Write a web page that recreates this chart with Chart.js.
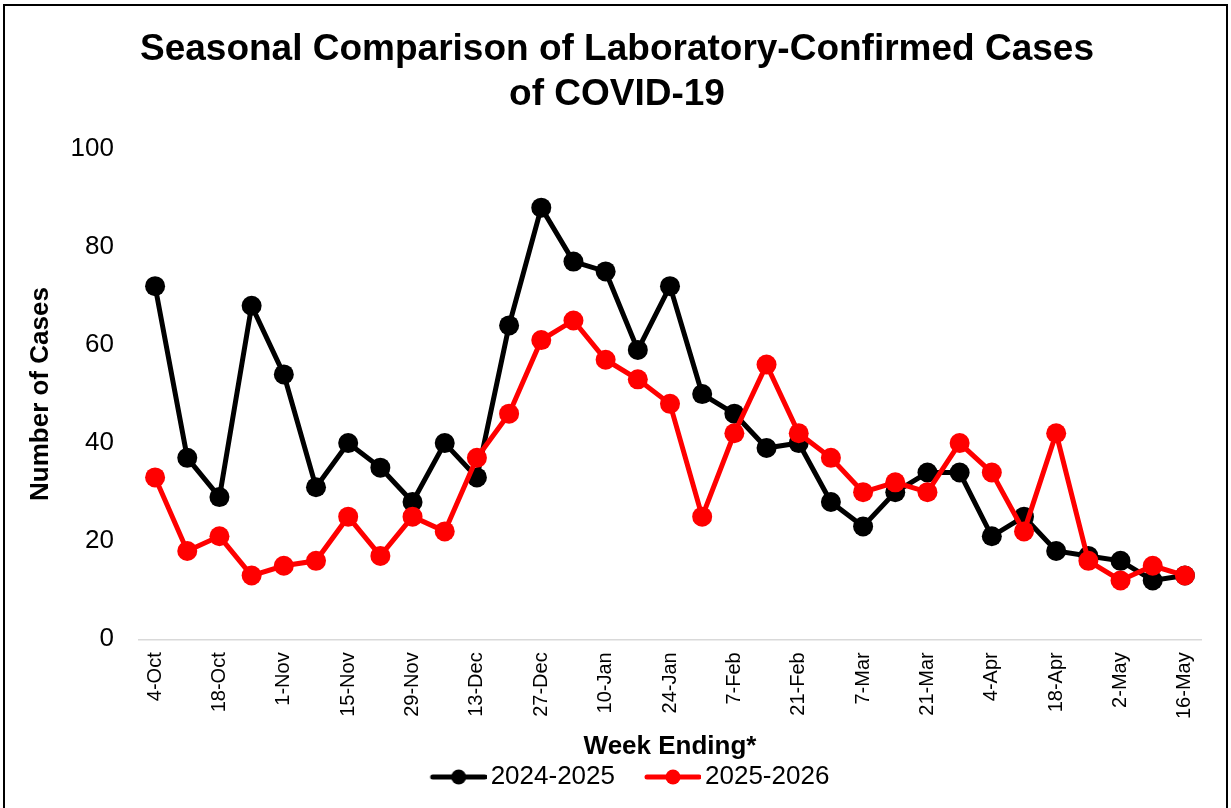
<!DOCTYPE html>
<html>
<head>
<meta charset="utf-8">
<script src="https://cdn.jsdelivr.net/npm/chart.js@4.4.1/dist/chart.umd.min.js"></script>
<style>
  html, body { margin: 0; padding: 0; background: #fff; }
</style>
</head>
<body>
<canvas id="covid_chart" width="1231" height="808"></canvas>
<script>
// week ending dates (every other one is labelled on the axis)
var weeks = ['4-Oct','11-Oct','18-Oct','25-Oct','1-Nov','8-Nov','15-Nov','22-Nov','29-Nov','6-Dec','13-Dec','20-Dec','27-Dec',
  '3-Jan','10-Jan','17-Jan','24-Jan','31-Jan','7-Feb','14-Feb','21-Feb','28-Feb','7-Mar','14-Mar','21-Mar','28-Mar',
  '4-Apr','11-Apr','18-Apr','25-Apr','2-May','9-May','16-May'];
var season2425 = [72,37,29,68,54,31,40,35,28,40,33,64,88,77,75,59,72,50,46,39,40,28,23,30,34,34,21,25,18,17,16,12,13];
var season2526 = [33,18,21,13,15,16,25,17,25,22,37,46,61,65,57,53,48,25,42,56,42,37,30,32,30,40,34,22,42,16,12,15,13];
var yTicks = [0, 20, 40, 60, 80, 100];

Chart.defaults.font.family = 'Arial, "Liberation Sans", sans-serif';
Chart.defaults.color = '#000';

// legend marker: line with a dot. The image is wider than the mark so the
// spacing between legend entries comes out like the spreadsheet one.
function legendIcon(color) {
  var c = document.createElement('canvas');
  c.width = 91; c.height = 16;
  var g = c.getContext('2d');
  g.strokeStyle = color; g.lineWidth = 5; g.lineCap = 'round';
  g.beginPath(); g.moveTo(37, 8); g.lineTo(89, 8); g.stroke();
  g.fillStyle = color;
  g.beginPath(); g.arc(63, 8, 7.5, 0, Math.PI * 2); g.fill();
  return c;
}

var frame = {
  id: 'frame',
  beforeDraw: function (chart) {
    var ctx = chart.ctx;
    ctx.save();
    ctx.fillStyle = '#fff';
    ctx.fillRect(0, 0, chart.width, chart.height);
    ctx.strokeStyle = '#000';
    ctx.lineWidth = 2;
    ctx.strokeRect(4, 5, 1223, 820);
    ctx.restore();
  }
};

var ctx = document.getElementById('covid_chart').getContext('2d');
var myChart = new Chart(ctx, {
  type: 'line',
  data: {
    labels: weeks,
    datasets: [{
      label: '2024-2025',
      data: season2425,
      borderColor: '#000',
      backgroundColor: '#000',
      order: 1,
    }, {
      label: '2025-2026',
      data: season2526,
      borderColor: '#ff0000',
      backgroundColor: '#ff0000',
      order: 0,   // red sits on top
    }],
  },
  plugins: [frame],
  options: {
    responsive: false,
    animation: false,
    events: [],
    layout: { padding: { left: 33, right: 30, top: 0, bottom: 8 } },
    elements: {
      line: { borderWidth: 5, tension: 0 },
      point: { radius: 10, borderWidth: 0 },
    },
    scales: {
      x: {
        offset: true,
        grid: { display: false, drawTicks: false },
        border: { display: true, color: '#d9d9d9', width: 1.5 },
        ticks: {
          autoSkip: false,
          minRotation: 90,
          maxRotation: 90,
          padding: 13,
          font: { size: 20 },
          callback: function (value, index) {
            return index % 2 === 0 ? this.getLabelForValue(value) : '';
          },
        },
        title: {
          display: true,
          text: 'Week Ending*',
          font: { size: 26, weight: 'bold', lineHeight: 1 },
          padding: { top: 2, bottom: 0 },
        },
      },
      y: {
        min: 0,
        max: 100,
        afterBuildTicks: function (scale) {
          scale.ticks = yTicks.map(function (v) { return { value: v }; });
        },
        afterFit: function (scale) {
          scale.width = 106;
        },
        grid: { display: false, drawTicks: false },
        border: { display: false },
        ticks: { padding: 25, font: { size: 26 } },
        title: {
          display: true,
          text: 'Number of Cases',
          font: { size: 26, weight: 'bold' },
          padding: { top: -8, bottom: 0 },
        },
      },
    },
    plugins: {
      tooltip: { enabled: false },
      title: {
        display: true,
        text: ['Seasonal Comparison of Laboratory-Confirmed Cases', 'of COVID-19'],
        font: { size: 37, weight: 'bold' },
        padding: { top: 28, bottom: 32 },
      },
      legend: {
        position: 'bottom',
        labels: {
          usePointStyle: true,
          pointStyleWidth: 73,
          padding: 4,
          font: { size: 26 },
          sort: function (a, b) { return a.datasetIndex - b.datasetIndex; },
          generateLabels: function (chart) {
            var items = Chart.defaults.plugins.legend.labels.generateLabels(chart);
            items.forEach(function (it) {
              it.pointStyle = legendIcon(chart.data.datasets[it.datasetIndex].borderColor);
            });
            return items;
          },
        },
      },
    },
  },
});
</script>
</body>
</html>
